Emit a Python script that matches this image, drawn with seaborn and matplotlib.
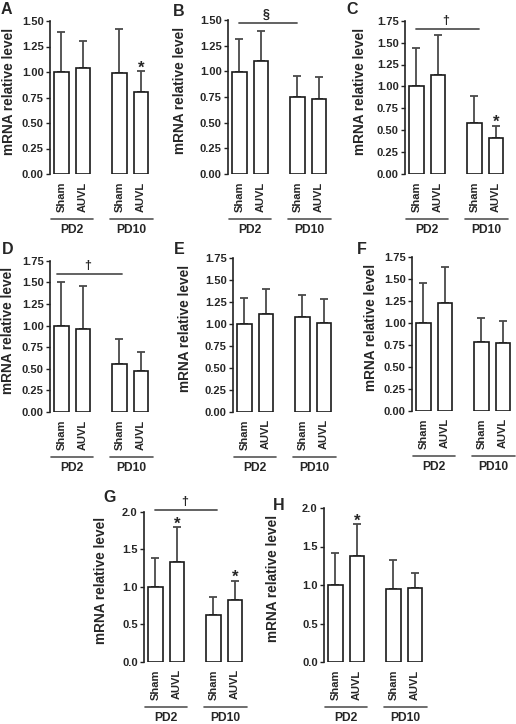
import numpy as np
import matplotlib
matplotlib.use('Agg')
import matplotlib.pyplot as plt
import matplotlib.transforms as mtransforms
from matplotlib.ticker import FormatStrFormatter
import seaborn as sns

sns.set_theme(style='ticks')
plt.rcParams['font.family'] = ['Liberation Sans', 'DejaVu Sans']
plt.rcParams['font.weight'] = 'bold'
plt.rcParams['axes.labelweight'] = 'bold'

# bars: Sham / AUVL at PD2 and PD10
bar_labels = ['Sham', 'AUVL', 'Sham', 'AUVL']
group_labels = ['PD2', 'PD10']
bar_pos = [0, 1, 2.68, 3.68]
group_x = [0.5, 3.25]

# mean and top of error bar (mean + SD)
mean_A = [1.00, 1.04, 0.99, 0.80]
top_A = [1.39, 1.30, 1.42, 1.01]
mean_B = [0.99, 1.10, 0.75, 0.73]
top_B = [1.315, 1.39, 0.955, 0.94]
mean_C = [1.00, 1.13, 0.58, 0.41]
top_C = [1.44, 1.585, 0.89, 0.55]
mean_D = [1.00, 0.96, 0.55, 0.48]
top_D = [1.50, 1.455, 0.84, 0.69]
mean_E = [1.00, 1.11, 1.08, 1.01]
top_E = [1.30, 1.40, 1.33, 1.28]
mean_F = [1.00, 1.22, 0.78, 0.77]
top_F = [1.45, 1.63, 1.05, 1.02]
mean_G = [1.00, 1.33, 0.63, 0.82]
top_G = [1.38, 1.80, 0.86, 1.08]
mean_H = [1.00, 1.38, 0.95, 0.955]
top_H = [1.42, 1.79, 1.33, 1.155]

# * = different from sham
stars_A = [3]
stars_C = [3]
stars_G = [1, 3]
stars_H = [1]

W, H = 516, 724
AX_W = 99

fig = plt.figure(figsize=(W / 100, H / 100), dpi=100)

# letter, mean, top, ymax, step, stars, significance (symbol, x0, x1, y),
# axes box (left, top, bottom) in px, ylabel offset px, letter pos px
panels = [
    ('A', mean_A, top_A, 1.5, 0.25, stars_A, None, (50, 21, 174), -34, (1, 10)),
    ('B', mean_B, top_B, 1.5, 0.25, [], ('§', 0, 2.68, 1.474), (228, 20, 174), -41, (173, 11)),
    ('C', mean_C, top_C, 1.75, 0.25, stars_C, ('†', 0, 2.9, 1.655), (405, 20.7, 174), -38, (346, 9)),
    ('D', mean_D, top_D, 1.75, 0.25, [], ('†', -0.2, 2.8, 1.596), (50, 260.7, 412), -35, (2, 249)),
    ('E', mean_E, top_E, 1.75, 0.25, [], None, (233, 258, 411.7), -41, (174, 250)),
    ('F', mean_F, top_F, 1.75, 0.25, [], None, (412, 256.7, 410.7), -34, (357, 249)),
    ('G', mean_G, top_G, 2.0, 0.5, stars_G, ('†', 0, 2.87, 2.03), (144, 512, 661.7), -36, (103, 498)),
    ('H', mean_H, top_H, 2.0, 0.5, stars_H, None, (324, 508, 662), -44, (273, 506)),
]

for letter, mean, top, ymax, step, stars, sig, box, ylab_off, lpos in panels:
    left, t, b = box
    ax = fig.add_axes([left / W, 1 - b / H, AX_W / W, (b - t) / H])
    sns.barplot(x=bar_pos, y=mean, native_scale=True, width=0.68, color='white',
                saturation=1, edgecolor='#1a1a1a', linewidth=1.2, errorbar=None,
                ax=ax, zorder=2)
    yerr = np.array(top) - np.array(mean)
    ax.errorbar(bar_pos, mean, yerr=[np.zeros(4), yerr], fmt='none',
                ecolor='#4a4a4a', elinewidth=1.3, capsize=3, capthick=1.3, zorder=1)

    ax.set_xlim(-0.52, 4.05)
    ax.set_ylim(0, ymax)
    ax.set_yticks(np.arange(0, ymax + 1e-9, step))
    ax.yaxis.set_major_formatter(FormatStrFormatter('%.2f' if step < 0.5 else '%.1f'))
    ax.set_xticks(bar_pos)
    ax.set_xticklabels(bar_labels, rotation=90, fontsize=8, fontweight='bold')
    ax.tick_params(axis='x', length=0, pad=5.5)
    ax.tick_params(axis='y', length=3, width=1, pad=1.5, labelsize=8,
                   direction='out', color='#222222')
    for lab in ax.get_yticklabels():
        lab.set_fontweight('bold')
    sns.despine(ax=ax, bottom=True)
    ax.spines['left'].set_linewidth(1.2)
    ax.spines['left'].set_color('#222222')
    ax.set_xlabel('')
    ax.set_ylabel('mRNA relative level', fontsize=9.8, fontweight='bold')
    ax.yaxis.set_label_coords(ylab_off / AX_W, 0.54)

    # group lines and PD labels below the tick labels
    line_tr = mtransforms.offset_copy(ax.get_xaxis_transform(), fig=fig, y=-45, units='dots')
    text_tr = mtransforms.offset_copy(ax.get_xaxis_transform(), fig=fig, y=-56, units='dots')
    for gx, gl in zip(group_x, group_labels):
        ax.plot([gx - 0.98, gx + 0.98], [0, 0], transform=line_tr, clip_on=False,
                color='#555555', lw=1.2)
        ax.text(gx, 0, gl, transform=text_tr, ha='center', va='center',
                fontsize=8.7, fontweight='bold')

    for i in stars:
        ax.annotate('*', xy=(bar_pos[i], top[i]), xytext=(0, -1), textcoords='offset points',
                    ha='center', va='baseline', fontsize=12, fontweight='bold',
                    annotation_clip=False)

    if sig is not None:
        sym, x0, x1, y = sig
        ax.plot([x0, x1], [y, y], color='#555555', lw=1.3, clip_on=False)
        ax.annotate(sym, xy=((x0 + x1) / 2 - 0.1, y), xytext=(0, 1.5),
                    textcoords='offset points', ha='center', va='bottom',
                    fontsize=9, fontweight='bold', annotation_clip=False)

    fig.text(lpos[0] / W, 1 - lpos[1] / H, letter, ha='left', va='center',
             fontsize=11.5, fontweight='bold')

fig.savefig('out.png', dpi=100)
